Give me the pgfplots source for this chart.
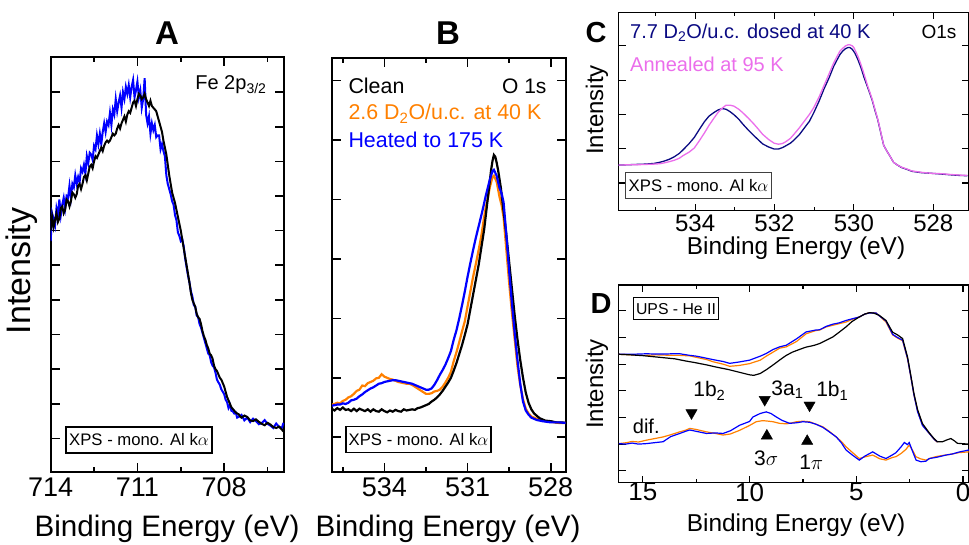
\documentclass[border=0pt]{standalone}
\usepackage{fontspec}
\setmainfont{Liberation Sans}
\usepackage{pgfplots}
\pgfplotsset{compat=1.18}
\definecolor{myblue}{RGB}{0,0,255}
\definecolor{myorange}{RGB}{255,128,0}
\definecolor{mynavy}{RGB}{10,10,130}
\definecolor{myviolet}{RGB}{235,110,235}
\newcommand{\fs}[1]{\fontsize{#1}{#1}\selectfont}
\pgfplotsset{
  base/.style={scale only axis, anchor=south west, x dir=reverse,
    tick align=inside, xtick pos=both, ytick pos=both, yticklabels={},
    /pgf/number format/assume math mode=true,
    axis line style={line width=2pt}, tick style={black, line width=1.6pt},
    major tick length=9pt, minor tick length=5pt},
  small/.style={axis line style={line width=1.5pt}, tick style={black, line width=1.2pt},
    major tick length=7pt, minor tick length=4pt},
}
\begin{document}
\begin{tikzpicture}[x=1pt,y=1pt]
\useasboundingbox (0,0) rectangle (969,544);
% ---------------- A
\begin{axis}[base, at={(50.7pt,72pt)}, width=233.3pt, height=414.5pt,
  xmin=705.93, xmax=714, ymin=-0.97, ymax=11,
  xtick={714,711,708}, minor xtick={712.5,709.5,706.5}, ytick={0,...,10},
  xticklabel style={font=\fs{27}, yshift=-2pt}]
\addplot[myblue, line width=2pt] coordinates {
(714.0,5.7)(713.95,6.5)(713.9,6.35)(713.85,6.15)(713.8,6.65)(713.75,6.45)(713.7,6.9)(713.65,6.45)(713.6,6.75)(713.55,6.95)(713.5,6.65)(713.45,7.0)(713.4,6.95)(713.35,7.3)(713.3,6.95)(713.25,7.35)(713.2,7.25)(713.15,7.6)(713.1,7.35)(713.05,7.55)(713.0,7.4)(712.95,7.8)(712.9,7.7)(712.85,7.9)(712.8,7.65)(712.75,8.15)(712.7,7.95)(712.65,8.25)(712.6,8.2)(712.55,8.05)(712.5,8.45)(712.45,8.35)(712.4,8.75)(712.35,8.5)(712.3,8.8)(712.25,8.5)(712.2,8.85)(712.15,9.1)(712.1,8.85)(712.05,9.15)(712.0,9.05)(711.95,9.4)(711.9,9.05)(711.85,9.5)(711.8,9.35)(711.75,9.8)(711.7,9.45)(711.65,9.7)(711.6,9.9)(711.55,9.55)(711.5,10.0)(711.45,9.8)(711.4,10.15)(711.35,9.95)(711.3,10.2)(711.25,9.85)(711.2,10.15)(711.15,10.35)(711.1,9.85)(711.05,10.05)(711.0,10.3)(710.95,9.85)(710.9,10.05)(710.85,9.55)(710.8,9.8)(710.75,10.4)(710.7,9.35)(710.65,9.1)(710.6,9.3)(710.55,8.8)(710.5,9.1)(710.45,8.9)(710.4,9.05)(710.35,8.7)(710.3,8.75)(710.25,8.75)(710.2,8.35)(710.15,8.5)(710.1,8.3)(710.05,8.15)(710.0,7.6)(709.95,7.35)(709.9,7.2)(709.85,7.05)(709.8,6.85)(709.75,6.75)(709.7,6.45)(709.65,6.3)(709.6,5.95)(709.55,5.85)(709.5,5.7)(709.45,5.75)(709.4,5.55)(709.35,5.2)(709.3,4.95)(709.25,4.7)(709.2,4.5)(709.15,4.25)(709.1,4.1)(709.05,3.85)(709.0,3.8)(708.95,3.55)(708.9,3.5)(708.85,3.3)(708.8,3.2)(708.75,3.05)(708.7,2.9)(708.65,2.75)(708.6,2.6)(708.55,2.45)(708.5,2.4)(708.45,2.2)(708.4,2.1)(708.35,2.05)(708.3,1.9)(708.25,1.7)(708.2,1.62)(708.15,1.55)(708.1,1.42)(708.05,1.35)(708.0,1.28)(707.95,1.12)(707.9,1.05)(707.85,0.88)(707.8,0.97)(707.75,0.8)(707.7,0.78)(707.65,0.72)(707.6,0.75)(707.55,0.6)(707.5,0.62)(707.4,0.68)(707.3,0.52)(707.2,0.6)(707.1,0.47)(707.0,0.57)(706.9,0.5)(706.8,0.41)(706.7,0.44)(706.6,0.53)(706.5,0.42)(706.4,0.37)(706.3,0.3)(706.2,0.43)(706.1,0.33)(706.0,0.31)(705.95,0.45)};
\addplot[black, line width=2pt] coordinates {
(714.0,6.0)(713.95,6.4)(713.9,6.1)(713.85,6.3)(713.8,6.5)(713.75,6.25)(713.7,6.35)(713.65,6.65)(713.6,6.7)(713.55,6.5)(713.5,6.6)(713.45,6.9)(713.4,6.85)(713.35,6.7)(713.3,6.85)(713.25,7.1)(713.2,7.05)(713.15,6.95)(713.1,7.05)(713.05,7.3)(713.0,7.35)(712.95,7.2)(712.9,7.35)(712.85,7.55)(712.8,7.6)(712.75,7.45)(712.7,7.65)(712.65,7.85)(712.6,7.9)(712.55,7.8)(712.5,8.0)(712.45,8.15)(712.4,8.1)(712.35,8.2)(712.3,8.3)(712.25,8.4)(712.2,8.3)(712.15,8.45)(712.1,8.55)(712.05,8.6)(712.0,8.55)(711.95,8.6)(711.9,8.7)(711.85,8.8)(711.8,8.75)(711.75,8.8)(711.7,8.95)(711.65,9.05)(711.6,8.95)(711.55,9.1)(711.5,9.2)(711.45,9.3)(711.4,9.15)(711.35,9.35)(711.3,9.45)(711.25,9.4)(711.2,9.55)(711.15,9.7)(711.1,9.75)(711.05,9.6)(711.0,9.8)(710.95,9.95)(710.9,9.9)(710.85,9.8)(710.8,9.85)(710.75,9.95)(710.7,9.8)(710.65,9.7)(710.6,9.6)(710.55,9.75)(710.5,9.6)(710.45,9.55)(710.4,9.5)(710.35,9.45)(710.3,9.3)(710.25,9.15)(710.2,9.0)(710.15,8.85)(710.1,8.6)(710.05,8.4)(710.0,8.2)(709.95,7.9)(709.9,7.6)(709.85,7.35)(709.8,7.1)(709.75,6.95)(709.7,6.8)(709.65,6.6)(709.6,6.4)(709.55,6.2)(709.5,6.0)(709.45,5.75)(709.4,5.5)(709.35,5.25)(709.3,5.0)(709.25,4.75)(709.2,4.5)(709.15,4.2)(709.1,4.0)(709.05,3.9)(709.0,3.8)(708.95,3.6)(708.9,3.5)(708.85,3.45)(708.8,3.3)(708.75,3.1)(708.7,2.95)(708.65,2.85)(708.6,2.7)(708.55,2.6)(708.5,2.45)(708.45,2.4)(708.4,2.3)(708.35,2.1)(708.3,2.0)(708.25,1.95)(708.2,1.85)(708.15,1.75)(708.1,1.7)(708.05,1.6)(708.0,1.5)(707.95,1.35)(707.9,1.2)(707.85,1.1)(707.8,1.0)(707.75,0.9)(707.7,0.85)(707.65,0.8)(707.6,0.75)(707.55,0.72)(707.5,0.7)(707.45,0.64)(707.4,0.6)(707.3,0.66)(707.2,0.62)(707.1,0.52)(707.0,0.5)(706.9,0.55)(706.8,0.48)(706.7,0.42)(706.6,0.38)(706.5,0.45)(706.4,0.4)(706.3,0.33)(706.2,0.3)(706.1,0.34)(706.0,0.25)(705.95,0.2)};
\end{axis}
% ---------------- B
\begin{axis}[base, at={(332pt,72.3pt)}, width=233.7pt, height=414.2pt,
  xmin=527.46, xmax=535.89, ymin=-0.58, ymax=6.39,
  xtick={534,531,528}, minor xtick={535.5,532.5,529.5}, ytick={0,...,6},
  xticklabel style={font=\fs{27}, yshift=-2pt}]
\addplot[myorange, line width=2.2pt] coordinates {
(535.9,0.55)(535.8,0.56)(535.7,0.58)(535.6,0.57)(535.5,0.61)(535.4,0.63)(535.3,0.67)(535.2,0.69)(535.1,0.73)(535.0,0.78)(534.9,0.8)(534.8,0.87)(534.7,0.86)(534.6,0.91)(534.5,0.93)(534.4,0.95)(534.3,0.99)(534.2,1.0)(534.1,1.06)(534.0,1.02)(533.9,1.0)(533.8,0.98)(533.7,0.97)(533.6,0.95)(533.5,0.93)(533.4,0.92)(533.3,0.91)(533.2,0.9)(533.1,0.9)(533.0,0.88)(532.9,0.85)(532.8,0.82)(532.7,0.79)(532.6,0.76)(532.5,0.73)(532.4,0.73)(532.3,0.74)(532.2,0.77)(532.1,0.78)(532.0,0.8)(531.9,0.85)(531.8,0.92)(531.7,1.0)(531.6,1.1)(531.5,1.28)(531.4,1.43)(531.3,1.6)(531.2,1.78)(531.1,1.95)(531.0,2.2)(530.9,2.45)(530.8,2.7)(530.7,2.92)(530.6,3.15)(530.5,3.4)(530.42,3.65)(530.35,3.85)(530.27,4.02)(530.2,4.2)(530.1,4.38)(530.05,4.4)(529.95,4.3)(529.85,4.05)(529.77,3.9)(529.7,3.7)(529.6,3.15)(529.5,2.6)(529.4,2.1)(529.3,1.65)(529.2,1.2)(529.1,0.88)(529.0,0.64)(528.9,0.48)(528.8,0.4)(528.7,0.35)(528.5,0.31)(528.3,0.28)(528.0,0.26)(527.7,0.24)(527.46,0.24)};
\addplot[black, line width=2.2pt] coordinates {
(535.9,0.48)(535.8,0.45)(535.7,0.49)(535.6,0.46)(535.5,0.5)(535.4,0.46)(535.3,0.47)(535.2,0.44)(535.1,0.48)(535.0,0.44)(534.9,0.48)(534.8,0.46)(534.7,0.44)(534.6,0.47)(534.5,0.43)(534.4,0.47)(534.3,0.44)(534.2,0.43)(534.1,0.47)(534.0,0.44)(533.9,0.42)(533.8,0.45)(533.7,0.43)(533.6,0.46)(533.5,0.44)(533.4,0.43)(533.3,0.47)(533.2,0.45)(533.1,0.46)(533.0,0.47)(532.9,0.46)(532.8,0.49)(532.7,0.5)(532.6,0.52)(532.5,0.54)(532.4,0.56)(532.3,0.6)(532.2,0.63)(532.1,0.67)(532.0,0.72)(531.9,0.78)(531.8,0.85)(531.7,0.92)(531.6,1.0)(531.5,1.12)(531.4,1.25)(531.3,1.4)(531.2,1.55)(531.1,1.72)(531.0,1.9)(530.9,2.15)(530.8,2.4)(530.7,2.65)(530.6,2.9)(530.5,3.2)(530.4,3.5)(530.3,3.9)(530.2,4.3)(530.15,4.5)(530.1,4.65)(530.05,4.75)(530.0,4.72)(529.95,4.62)(529.9,4.5)(529.85,4.35)(529.8,4.2)(529.7,3.8)(529.6,3.4)(529.5,2.95)(529.4,2.5)(529.3,2.05)(529.2,1.65)(529.1,1.3)(529.0,1.0)(528.9,0.75)(528.8,0.58)(528.7,0.47)(528.6,0.4)(528.5,0.36)(528.4,0.32)(528.3,0.3)(528.2,0.28)(528.0,0.27)(527.8,0.25)(527.6,0.25)(527.46,0.24)};
\addplot[myblue, line width=2.2pt] coordinates {
(535.9,0.53)(535.8,0.54)(535.7,0.55)(535.6,0.55)(535.5,0.57)(535.4,0.56)(535.3,0.58)(535.2,0.62)(535.1,0.63)(535.0,0.65)(534.9,0.69)(534.8,0.72)(534.7,0.76)(534.6,0.79)(534.5,0.82)(534.4,0.84)(534.3,0.87)(534.2,0.9)(534.1,0.91)(534.0,0.93)(533.9,0.94)(533.8,0.95)(533.7,0.96)(533.6,0.96)(533.5,0.95)(533.4,0.94)(533.3,0.93)(533.2,0.92)(533.1,0.91)(533.0,0.9)(532.9,0.88)(532.8,0.86)(532.7,0.84)(532.6,0.82)(532.5,0.8)(532.4,0.8)(532.3,0.82)(532.2,0.88)(532.1,0.96)(532.0,1.05)(531.9,1.13)(531.8,1.22)(531.7,1.33)(531.6,1.45)(531.5,1.64)(531.4,1.8)(531.3,2.0)(531.2,2.22)(531.1,2.45)(531.0,2.7)(530.9,2.93)(530.8,3.15)(530.7,3.36)(530.6,3.55)(530.5,3.74)(530.42,3.9)(530.35,4.05)(530.27,4.2)(530.2,4.33)(530.1,4.48)(530.05,4.5)(529.95,4.4)(529.85,4.2)(529.77,4.1)(529.7,3.95)(529.6,3.4)(529.5,2.8)(529.4,2.25)(529.3,1.75)(529.2,1.3)(529.1,0.9)(529.0,0.6)(528.9,0.45)(528.8,0.38)(528.7,0.33)(528.5,0.29)(528.3,0.27)(528.0,0.25)(527.7,0.25)(527.46,0.24)};
\end{axis}
% ---------------- C
\begin{axis}[base, small, at={(618.5pt,333.3pt)}, width=350.5pt, height=198.4pt,
  xmin=527.1, xmax=535.93, ymin=-0.81, ymax=4.98,
  xtick={534,532,530,528}, minor xtick={535,533,531,529}, ytick={0,...,4},
  xticklabel style={font=\fs{24}, yshift=-1pt}]
\addplot[mynavy, line width=1.3pt] coordinates {
(535.93,0.52)(535.7,0.53)(535.5,0.54)(535.25,0.55)(535.03,0.57)(534.9,0.6)(534.8,0.63)(534.65,0.69)(534.53,0.76)(534.4,0.86)(534.3,0.97)(534.15,1.15)(534.02,1.33)(533.9,1.55)(533.77,1.78)(533.65,1.95)(533.52,2.06)(533.42,2.13)(533.32,2.17)(533.22,2.15)(533.12,2.08)(533.02,1.99)(532.9,1.86)(532.8,1.72)(532.65,1.53)(532.52,1.38)(532.4,1.25)(532.3,1.14)(532.15,1.05)(532.01,0.99)(531.9,0.99)(531.8,1.03)(531.72,1.08)(531.6,1.16)(531.51,1.25)(531.38,1.4)(531.25,1.6)(531.12,1.8)(531.01,2.05)(530.88,2.38)(530.75,2.75)(530.62,3.08)(530.51,3.4)(530.42,3.6)(530.35,3.75)(530.28,3.85)(530.21,3.92)(530.15,3.95)(530.1,3.95)(530.04,3.9)(529.97,3.78)(529.9,3.6)(529.82,3.36)(529.75,3.1)(529.65,2.78)(529.54,2.42)(529.47,2.12)(529.4,1.85)(529.32,1.45)(529.25,1.1)(529.17,0.93)(529.1,0.8)(529.0,0.6)(528.9,0.52)(528.8,0.45)(528.65,0.39)(528.54,0.34)(528.3,0.3)(528.04,0.28)(527.8,0.26)(527.6,0.24)(527.35,0.22)(527.14,0.21)};
\addplot[myviolet, line width=1.3pt] coordinates {
(535.93,0.52)(535.7,0.53)(535.5,0.53)(535.25,0.54)(535.03,0.55)(534.9,0.56)(534.8,0.58)(534.65,0.62)(534.53,0.66)(534.4,0.72)(534.3,0.8)(534.15,0.9)(534.02,1.02)(533.9,1.22)(533.77,1.45)(533.65,1.68)(533.52,1.9)(533.42,2.06)(533.32,2.18)(533.22,2.27)(533.12,2.27)(533.02,2.24)(532.9,2.15)(532.8,2.05)(532.65,1.88)(532.52,1.72)(532.4,1.56)(532.3,1.42)(532.15,1.27)(532.01,1.16)(531.9,1.13)(531.8,1.15)(531.72,1.2)(531.6,1.3)(531.51,1.42)(531.38,1.6)(531.25,1.8)(531.12,2.0)(531.01,2.2)(530.88,2.5)(530.75,2.85)(530.62,3.2)(530.51,3.5)(530.42,3.7)(530.35,3.85)(530.28,3.93)(530.21,4.0)(530.15,4.03)(530.1,4.03)(530.04,4.0)(530.0,3.95)(529.9,3.7)(529.82,3.45)(529.75,3.2)(529.65,2.82)(529.54,2.45)(529.47,2.15)(529.4,1.87)(529.32,1.47)(529.25,1.1)(529.17,0.93)(529.1,0.8)(529.0,0.6)(528.9,0.52)(528.8,0.46)(528.65,0.4)(528.54,0.35)(528.3,0.31)(528.04,0.28)(527.8,0.27)(527.6,0.25)(527.35,0.23)(527.14,0.22)};
\end{axis}
% ---------------- D
\begin{axis}[base, small, at={(618.5pt,61.5pt)}, width=350.5pt, height=197.5pt,
  xmin=-0.28, xmax=16.14, ymin=-0.44, ymax=6.97,
  xtick={15,10,5,0}, minor xtick={12.5,7.5,2.5}, ytick={0,...,6},
  xticklabel style={font=\fs{26}, yshift=3pt}]
\addplot[myorange, line width=1.2pt] coordinates {
(16.12,4.37)(15.8,4.36)(15.5,4.35)(15.2,4.33)(14.82,4.33)(14.4,4.35)(14.0,4.34)(13.6,4.33)(13.27,4.33)(12.8,4.31)(12.4,4.24)(12.0,4.17)(11.71,4.09)(11.24,4.0)(10.93,3.92)(10.5,3.95)(10.0,4.02)(9.5,4.15)(9.22,4.3)(8.9,4.45)(8.59,4.6)(8.28,4.65)(7.8,4.85)(7.35,5.14)(6.9,5.26)(6.72,5.28)(6.4,5.4)(6.1,5.46)(5.8,5.52)(5.48,5.58)(5.2,5.68)(4.86,5.77)(4.6,5.88)(4.39,5.93)(4.08,5.92)(3.9,5.8)(3.61,5.58)(3.3,5.1)(3.07,4.98)(2.83,4.88)(2.6,4.2)(2.45,3.55)(2.3,2.85)(2.13,2.25)(1.9,1.72)(1.58,1.4)(1.35,1.18)(1.2,1.07)};
\addplot[myblue, line width=1.2pt] coordinates {
(16.12,4.37)(15.8,4.37)(15.5,4.37)(15.2,4.38)(14.82,4.39)(14.4,4.38)(14.0,4.38)(13.6,4.39)(13.27,4.39)(12.8,4.33)(12.49,4.3)(12.0,4.22)(11.71,4.17)(11.24,4.1)(10.93,4.03)(10.5,4.08)(10.0,4.15)(9.5,4.3)(9.22,4.4)(8.9,4.55)(8.59,4.65)(8.28,4.71)(7.8,4.95)(7.35,5.21)(6.9,5.28)(6.72,5.29)(6.4,5.42)(6.1,5.5)(5.8,5.55)(5.48,5.64)(5.2,5.7)(4.86,5.77)(4.6,5.88)(4.39,5.92)(4.08,5.92)(3.9,5.8)(3.61,5.62)(3.3,5.12)(3.07,5.0)(2.83,4.9)(2.6,4.22)(2.45,3.55)(2.3,2.85)(2.13,2.22)(1.9,1.7)(1.58,1.4)(1.35,1.18)(1.2,1.08)};
\addplot[black, line width=1.2pt] coordinates {
(16.12,4.37)(15.6,4.35)(15.0,4.32)(14.5,4.28)(14.0,4.24)(13.5,4.2)(13.0,4.12)(12.5,4.05)(12.0,3.97)(11.5,3.88)(11.0,3.8)(10.5,3.7)(10.0,3.6)(9.8,3.58)(9.5,3.65)(9.2,3.8)(8.9,3.97)(8.6,4.15)(8.3,4.32)(8.0,4.45)(7.6,4.57)(7.35,4.64)(7.0,4.7)(6.73,4.77)(6.4,4.9)(6.1,5.02)(5.8,5.2)(5.48,5.4)(5.2,5.6)(4.86,5.77)(4.6,5.88)(4.39,5.93)(4.2,5.92)(3.92,5.83)(3.61,5.64)(3.3,5.2)(3.07,5.1)(2.83,4.96)(2.6,4.27)(2.45,3.6)(2.3,2.9)(2.13,2.3)(1.9,1.77)(1.58,1.42)(1.35,1.2)(1.2,1.09)(0.96,1.09)(0.75,1.16)(0.57,1.21)(0.4,1.12)(0.26,1.03)(-0.28,1.0)};
\addplot[myorange, line width=1.2pt] coordinates {
(16.12,1.02)(15.8,1.05)(15.5,1.1)(15.2,1.08)(14.82,1.15)(14.5,1.2)(14.05,1.27)(13.7,1.35)(13.27,1.46)(13.0,1.52)(12.8,1.59)(12.5,1.55)(12.02,1.46)(11.6,1.4)(11.24,1.34)(10.9,1.38)(10.46,1.52)(10.0,1.7)(9.69,1.84)(9.4,1.88)(9.22,1.87)(8.9,1.84)(8.6,1.78)(8.28,1.76)(8.0,1.8)(7.81,1.84)(7.5,1.86)(7.19,1.84)(6.9,1.75)(6.57,1.65)(6.3,1.5)(5.94,1.27)(5.7,1.1)(5.48,0.9)(5.2,0.7)(4.86,0.46)(4.6,0.52)(4.23,0.59)(3.9,0.45)(3.61,0.4)(3.3,0.5)(3.14,0.53)(2.9,0.65)(2.68,0.8)(2.52,0.96)(2.35,0.75)(2.21,0.53)(2.0,0.45)(1.74,0.4)(1.5,0.48)(1.27,0.53)(1.0,0.57)(0.81,0.59)(0.5,0.63)(0.2,0.68)(-0.28,0.71)};
\addplot[myblue, line width=1.2pt] coordinates {
(16.12,1.02)(15.8,1.0)(15.5,1.04)(15.2,1.0)(14.82,1.02)(14.5,1.05)(14.05,1.09)(13.7,1.28)(13.27,1.4)(13.0,1.48)(12.8,1.53)(12.5,1.48)(12.02,1.4)(11.6,1.42)(11.24,1.4)(10.9,1.5)(10.46,1.71)(10.0,1.85)(9.84,2.02)(9.5,2.15)(9.22,2.21)(9.0,2.15)(8.75,2.02)(8.5,1.9)(8.13,1.78)(7.81,1.8)(7.5,1.84)(7.19,1.82)(6.9,1.75)(6.57,1.63)(6.3,1.48)(5.94,1.27)(5.7,1.05)(5.48,0.78)(5.2,0.6)(4.86,0.4)(4.6,0.55)(4.23,0.71)(3.9,0.55)(3.61,0.46)(3.3,0.6)(3.14,0.68)(2.9,0.9)(2.75,1.06)(2.6,0.98)(2.52,1.06)(2.35,0.7)(2.2,0.4)(1.97,0.34)(1.74,0.36)(1.58,0.46)(1.27,0.5)(1.0,0.55)(0.8,0.59)(0.5,0.63)(0.2,0.7)(-0.28,0.78)};
\addplot[only marks, mark=triangle*, mark size=6.5pt, black, mark options={rotate=180}] coordinates {(12.72,2.17)(9.29,2.67)(7.19,2.46)};
\addplot[only marks, mark=triangle*, mark size=6.5pt, black] coordinates {(9.19,1.31)(7.3,1.11)};
\node[anchor=base west, font=\fs{21}] at (axis cs:12.8,2.77) {1b\textsubscript{2}};
\node[anchor=base west, font=\fs{21}] at (axis cs:9.14,2.84) {3a\textsubscript{1}};
\node[anchor=base west, font=\fs{21}] at (axis cs:7.04,2.77) {1b\textsubscript{1}};
\node[anchor=base, font=\fs{21}] at (axis cs:9.22,0.21) {3$\sigma$};
\node[anchor=base, font=\fs{21}] at (axis cs:7.11,0.03) {1$\pi$};
\node[anchor=base west, font=\fs{20}] at (axis cs:15.63,1.4) {dif.};
\end{axis}
% ---------------- texts
\node[font=\bfseries\fs{33}] at (167,510.7) {A};
\node[font=\bfseries\fs{33}] at (448,510.7) {B};
\node[font=\bfseries\fs{29}, inner sep=0pt] at (596,511) {C};
\node[font=\bfseries\fs{29}, inner sep=0pt] at (601,240) {D};
\node[rotate=90, font=\fs{34}] at (22,273) {Intensity};
\node[font=\fs{29.6}] at (167,15) {Binding Energy (eV)};
\node[font=\fs{29.6}] at (448,15) {Binding Energy (eV)};
\node[rotate=90, font=\fs{24}, inner sep=0pt] at (597,434) {Intensity};
\node[font=\fs{24.4}] at (796,295.5) {Binding Energy (eV)};
\node[rotate=90, font=\fs{24}, inner sep=0pt] at (597,160) {Intensity};
\node[font=\fs{24.4}] at (796,18.5) {Binding Energy (eV)};
\node[anchor=base east, font=\fs{20}] at (270,454) {Fe 2p\textsubscript{3/2}};
\node[anchor=base east, font=\fs{21}] at (550,450) {O 1s};
\node[anchor=base west, font=\fs{21.4}] at (345,450) {Clean};
\node[anchor=base west, font=\fs{21.4}, text=myorange] at (345,424.3) {2.6 D\textsubscript{2}O/u.c. at 40 K};
\node[anchor=base west, font=\fs{21.4}, text=myblue] at (345,396.5) {Heated to 175 K};
\node[anchor=base west, font=\fs{20}, text=mynavy] at (626.7,505.7) {7.7 D\textsubscript{2}O/u.c. dosed at 40 K};
\node[anchor=base west, font=\fs{20}, text=myviolet] at (626.7,472.3) {Annealed at 95 K};
\node[anchor=base east, font=\fs{19}] at (960,505.7) {O1s};
\node[draw, line width=1.8pt, font=\fs{16.7}, inner xsep=3pt, minimum height=26pt] at (139,104) {XPS - mono. Al k$\alpha$};
\node[draw, line width=1.8pt, font=\fs{16.7}, inner xsep=3pt, minimum height=26pt] at (418.5,104.5) {XPS - mono. Al k$\alpha$};
\node[draw=black!75, line width=1pt, font=\fs{16.7}, inner xsep=3pt, minimum height=26pt, fill=white] at (698.5,358) {XPS - mono. Al k$\alpha$};
\node[draw, line width=1pt, font=\fs{15.8}, inner xsep=3pt, minimum height=22pt] at (676,235) {UPS - He II};
\end{tikzpicture}
\end{document}
